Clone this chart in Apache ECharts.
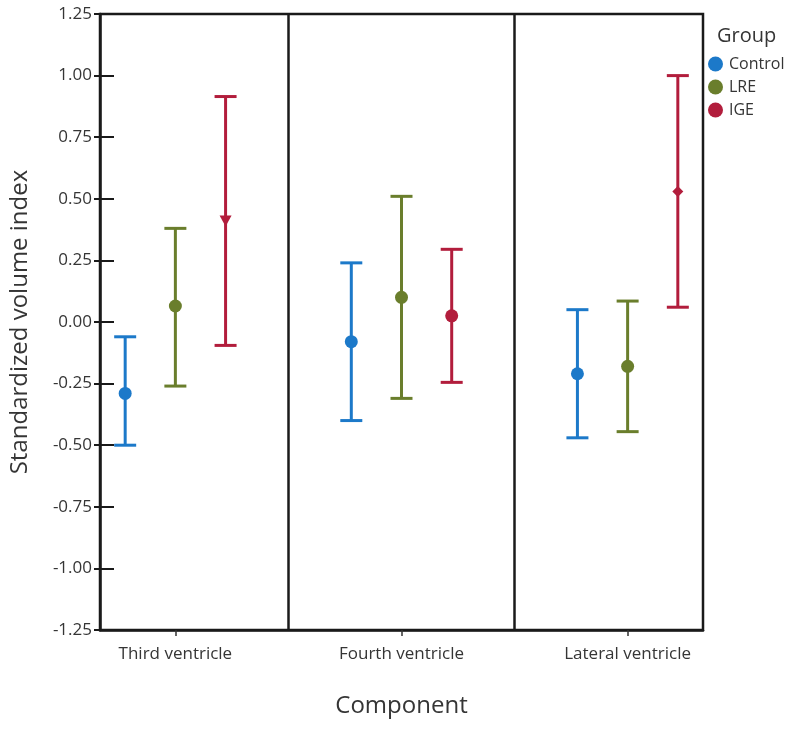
<!DOCTYPE html>
<html>
<head>
<meta charset="utf-8">
<script src="https://cdn.jsdelivr.net/npm/echarts@6/dist/echarts.min.js"></script>
<style>html,body{margin:0;padding:0;background:#fff;}#c{width:800px;height:732px;}</style>
</head>
<body>
<div id="c"></div>
<script>
const categories = ['Third ventricle', 'Fourth ventricle', 'Lateral ventricle'];
const groups = ['Control', 'LRE', 'IGE'];
const controlMean = [-0.29, -0.08, -0.21];
const controlLow  = [-0.50, -0.40, -0.47];
const controlHigh = [-0.06, 0.24, 0.05];
const lreMean = [0.065, 0.10, -0.18];
const lreLow  = [-0.26, -0.31, -0.445];
const lreHigh = [0.38, 0.51, 0.085];
const igeMean = [0.41, 0.025, 0.53];
const igeLow  = [-0.095, -0.245, 0.06];
const igeHigh = [0.915, 0.295, 1.00];
const yTicks = [-1.25, -1.00, -0.75, -0.50, -0.25, 0.00, 0.25, 0.50, 0.75, 1.00, 1.25];

const colors = ['#1c79c9', '#6a7e2c', '#b21d3c'];
const offsets = [-0.222, 0, 0.222];
const means = [controlMean, lreMean, igeMean];
const lows = [controlLow, lreLow, igeLow];
const highs = [controlHigh, lreHigh, igeHigh];
const igeSymbols = ['triangle', 'circle', 'diamond'];
const FONT = '"Open Sans"';
const TXT = '#353535';

const series = [];
groups.forEach((g, gi) => {
  series.push({
    type: 'custom',
    name: g + ' CI',
    silent: true,
    z: 3,
    data: categories.map((c, i) => [i + offsets[gi], lows[gi][i], highs[gi][i]]),
    renderItem: function (params, api) {
      const x = api.value(0);
      const lo = api.coord([x, api.value(1)]);
      const hi = api.coord([x, api.value(2)]);
      const hw = 11;
      const st = { stroke: colors[gi], lineWidth: 3 };
      return {
        type: 'group',
        children: [
          { type: 'line', shape: { x1: lo[0], y1: lo[1], x2: hi[0], y2: hi[1] }, style: st },
          { type: 'line', shape: { x1: lo[0] - hw, y1: lo[1], x2: lo[0] + hw, y2: lo[1] }, style: st },
          { type: 'line', shape: { x1: hi[0] - hw, y1: hi[1], x2: hi[0] + hw, y2: hi[1] }, style: st }
        ]
      };
    }
  });
});
groups.forEach((g, gi) => {
  series.push({
    type: 'scatter',
    name: g,
    z: 4,
    itemStyle: { color: colors[gi], opacity: 1 },
    symbolSize: 13,
    data: categories.map((c, i) => {
      const d = { value: [i + offsets[gi], means[gi][i]] };
      if (gi === 2) {
        d.symbol = igeSymbols[i];
        if (i === 0) { d.symbolSize = [12, 11]; d.symbolRotate = 180; }
        if (i === 2) { d.symbolSize = 11; }
      }
      return d;
    }),
    markLine: gi === 0 ? {
      silent: true,
      symbol: 'none',
      label: { show: false },
      lineStyle: { color: '#1a1a1a', width: 2.5, type: 'solid' },
      data: [{ xAxis: 0.5 }, { xAxis: 1.5 }]
    } : undefined
  });
});

const chart = echarts.init(document.getElementById('c'));
chart.setOption({
  animation: false,
  backgroundColor: '#ffffff',
  title: {
    text: 'Group', left: 717, top: 26,
    padding: 0,
    textStyle: { fontFamily: FONT, fontSize: 20, fontWeight: 'normal', color: TXT }
  },
  legend: {
    data: groups.map(g => ({ name: g, icon: 'circle' })),
    orient: 'vertical',
    left: 708, top: 56,
    itemWidth: 15, itemHeight: 15, itemGap: 7,
    padding: 0,
    textStyle: { fontFamily: FONT, fontSize: 16, color: TXT, padding: [0, 0, 0, 1] }
  },
  grid: {
    left: 99, top: 14, right: 97, bottom: 102,
    show: true, borderColor: '#1a1a1a', borderWidth: 2.5, backgroundColor: 'transparent'
  },
  xAxis: {
    type: 'value',
    min: -1 / 3, max: 7 / 3,
    name: 'Component',
    nameLocation: 'middle', nameGap: 64,
    nameTextStyle: { fontFamily: FONT, fontSize: 24, color: TXT },
    axisLine: { show: true, onZero: false, lineStyle: { color: '#1a1a1a', width: 2.5 } },
    axisTick: { show: true, customValues: [0, 1, 2], length: 6, lineStyle: { color: '#333', width: 1.5 } },
    axisLabel: {
      customValues: [0, 1, 2], margin: 16,
      formatter: v => categories[Math.round(v)],
      fontFamily: FONT, fontSize: 17, color: TXT
    },
    splitLine: { show: false }
  },
  yAxis: [{
    type: 'value',
    min: -1.25, max: 1.25, interval: 0.25,
    name: 'Standardized volume index',
    nameLocation: 'middle', nameGap: 68,
    nameTextStyle: { fontFamily: FONT, fontSize: 24, color: TXT },
    axisLine: { show: true, onZero: false, lineStyle: { color: '#1a1a1a', width: 2.5 } },
    axisTick: { show: true, inside: false, length: 6, lineStyle: { color: '#1a1a1a', width: 2 } },
    axisLabel: {
      margin: 8,
      formatter: v => v.toFixed(2),
      fontFamily: FONT, fontSize: 17, color: TXT
    },
    splitLine: { show: false }
  }, {
    type: 'value', position: 'left',
    min: -1.25, max: 1.25, interval: 0.25,
    axisLine: { show: false, onZero: false },
    axisTick: { show: true, inside: true, length: 14, lineStyle: { color: '#1a1a1a', width: 2 } },
    axisLabel: { show: false },
    splitLine: { show: false }
  }],
  series: series
});
</script>
</body>
</html>
